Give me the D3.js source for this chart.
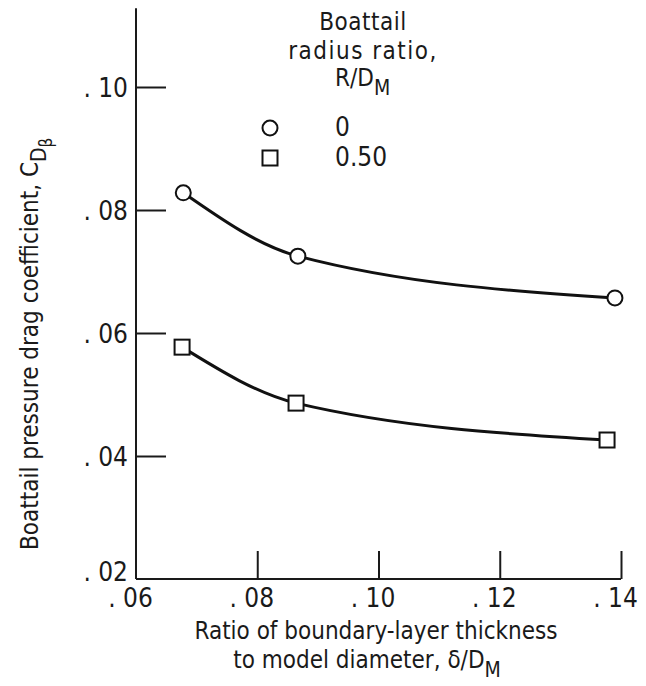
<!doctype html>
<html>
<head>
	<style>
body { margin: 0; background: #fff; }
text {
  font-family: "Liberation Sans Narrow", "Arial Narrow", "DejaVu Sans Condensed", sans-serif;
  font-size: 26px;
  fill: #1a1a1a;
}
.title { font-size: 24px; }
.axis line, .axis-line { stroke: #1a1a1a; stroke-width: 2px; }
.fair { fill: none; stroke: #111; stroke-width: 3px; }
.mark { fill: #fff; stroke: #111; stroke-width: 2px; }
	</style>
</head>
<body>

	<div id="root"></div>

	<script src="https://d3js.org/d3.v7.min.js"></script>
	<script>

	// delta/D_M and C_D_beta
	var circleX = [0.0678, 0.0867, 0.1390];
	var circleY = [0.0828, 0.0725, 0.0657];
	var squareX = [0.0676, 0.0864, 0.1377];
	var squareY = [0.0577, 0.0486, 0.0426];

	var xTicks = [0.06, 0.08, 0.10, 0.12, 0.14];
	var yTicks = [0.02, 0.04, 0.06, 0.08, 0.10];
	var legendLabels = ['0', '0.50'];

	var svg = d3.select('#root').append('svg')
		.attr('width', 646)
		.attr('height', 686);

	var x = d3.scaleLinear().domain([0.06, 0.14]).range([136, 621]);
	var y = d3.scaleLinear().domain([0.02, 0.10]).range([579, 87]);

	var fmt = function(d){ return '. ' + d3.format('.2f')(d).slice(2); };

	// axes (ticks point inward, like the original)
	var gx = svg.append('g')
		.attr('class', 'axis')
		.attr('transform', 'translate(0,579)')
		.call(d3.axisBottom(x).tickValues(xTicks).tickSizeInner(-28).tickSizeOuter(0).tickPadding(10).tickFormat(fmt));
	gx.select('.domain').remove();
	gx.selectAll('.tick text').attr('dx', '-6').attr('font-size', null).attr('font-family', null);
	gx.selectAll('.tick').filter(function(d){ return d === 0.06; }).select('line').remove();

	var gy = svg.append('g')
		.attr('class', 'axis')
		.attr('transform', 'translate(136,0)')
		.call(d3.axisLeft(y).tickValues(yTicks).tickSizeInner(-30).tickSizeOuter(0).tickPadding(8).tickFormat(fmt));
	gy.select('.domain').remove();
	gy.selectAll('.tick text').attr('dy', '0.36em').attr('font-size', null).attr('font-family', null);
	gy.selectAll('.tick').filter(function(d){ return d === 0.02; }).select('text').attr('dy', '0.04em');
	gy.selectAll('.tick').filter(function(d){ return d === 0.02; }).select('line').remove();

	svg.append('line').attr('class', 'axis-line')
		.attr('x1', x(0.06)).attr('x2', x(0.06))
		.attr('y1', y(0.1128)).attr('y2', y(0.02));
	svg.append('line').attr('class', 'axis-line')
		.attr('x1', x(0.06)).attr('x2', x(0.14))
		.attr('y1', y(0.02)).attr('y2', y(0.02));

	// faired curves
	var line = d3.line()
		.x(function(d){ return x(d[0]); })
		.y(function(d){ return y(d[1]); })
		.curve(d3.curveMonotoneX);

	var circles = d3.zip(circleX, circleY);
	var squares = d3.zip(squareX, squareY);

	svg.append('path').attr('class', 'fair').attr('d', line(circles));
	svg.append('path').attr('class', 'fair').attr('d', line(squares));

	svg.selectAll('.c').data(circles).enter().append('circle')
		.attr('class', 'mark')
		.attr('cx', function(d){ return x(d[0]); })
		.attr('cy', function(d){ return y(d[1]); })
		.attr('r', 7.5);

	svg.selectAll('.s').data(squares).enter().append('rect')
		.attr('class', 'mark')
		.attr('x', function(d){ return x(d[0]) - 7.5; })
		.attr('y', function(d){ return y(d[1]) - 7.5; })
		.attr('width', 15).attr('height', 15);

	// legend
	var lg = svg.append('g').attr('class', 'title');
	lg.append('text').attr('class', 'title').attr('x', 363).attr('y', 30).attr('text-anchor', 'middle').style('letter-spacing', '0.5px').text('Boattail');
	lg.append('text').attr('class', 'title').attr('x', 363).attr('y', 59).attr('text-anchor', 'middle').style('letter-spacing', '1.5px').text('radius ratio,');
	var rd = lg.append('text').attr('class', 'title').attr('x', 335).attr('y', 86);
	rd.append('tspan').text('R/D');
	rd.append('tspan').attr('dy', 9).style('font-size', '21px').text('M');

	lg.append('circle').attr('class', 'mark').attr('cx', 270).attr('cy', 128).attr('r', 7.5);
	lg.append('rect').attr('class', 'mark').attr('x', 262.5).attr('y', 150.5).attr('width', 15).attr('height', 15);
	lg.selectAll('.lt').data(legendLabels).enter().append('text')
		.attr('x', 335)
		.attr('y', function(d, i){ return 136 + i * 30; })
		.text(function(d){ return d; });

	// axis titles
	var xt = svg.append('g').attr('text-anchor', 'middle');
	xt.append('text').attr('class', 'title').attr('x', 376).attr('y', 639).text('Ratio of boundary-layer thickness');
	var xt2 = xt.append('text').attr('class', 'title').attr('x', 367).attr('y', 668);
	xt2.append('tspan').text('to model diameter, \u03b4/D');
	xt2.append('tspan').attr('dy', 9).style('font-size', '21px').text('M');

	var yt = svg.append('text')
		.attr('class', 'title')
		.attr('transform', 'translate(38,550) rotate(-90)')
		.attr('text-anchor', 'start');
	yt.append('tspan').text('Boattail pressure drag coefficient, C');
	yt.append('tspan').attr('dy', 8).style('font-size', '21px').text('D');
	yt.append('tspan').attr('dy', 6).style('font-size', '17px').text('\u03b2');

	</script>
</body>
